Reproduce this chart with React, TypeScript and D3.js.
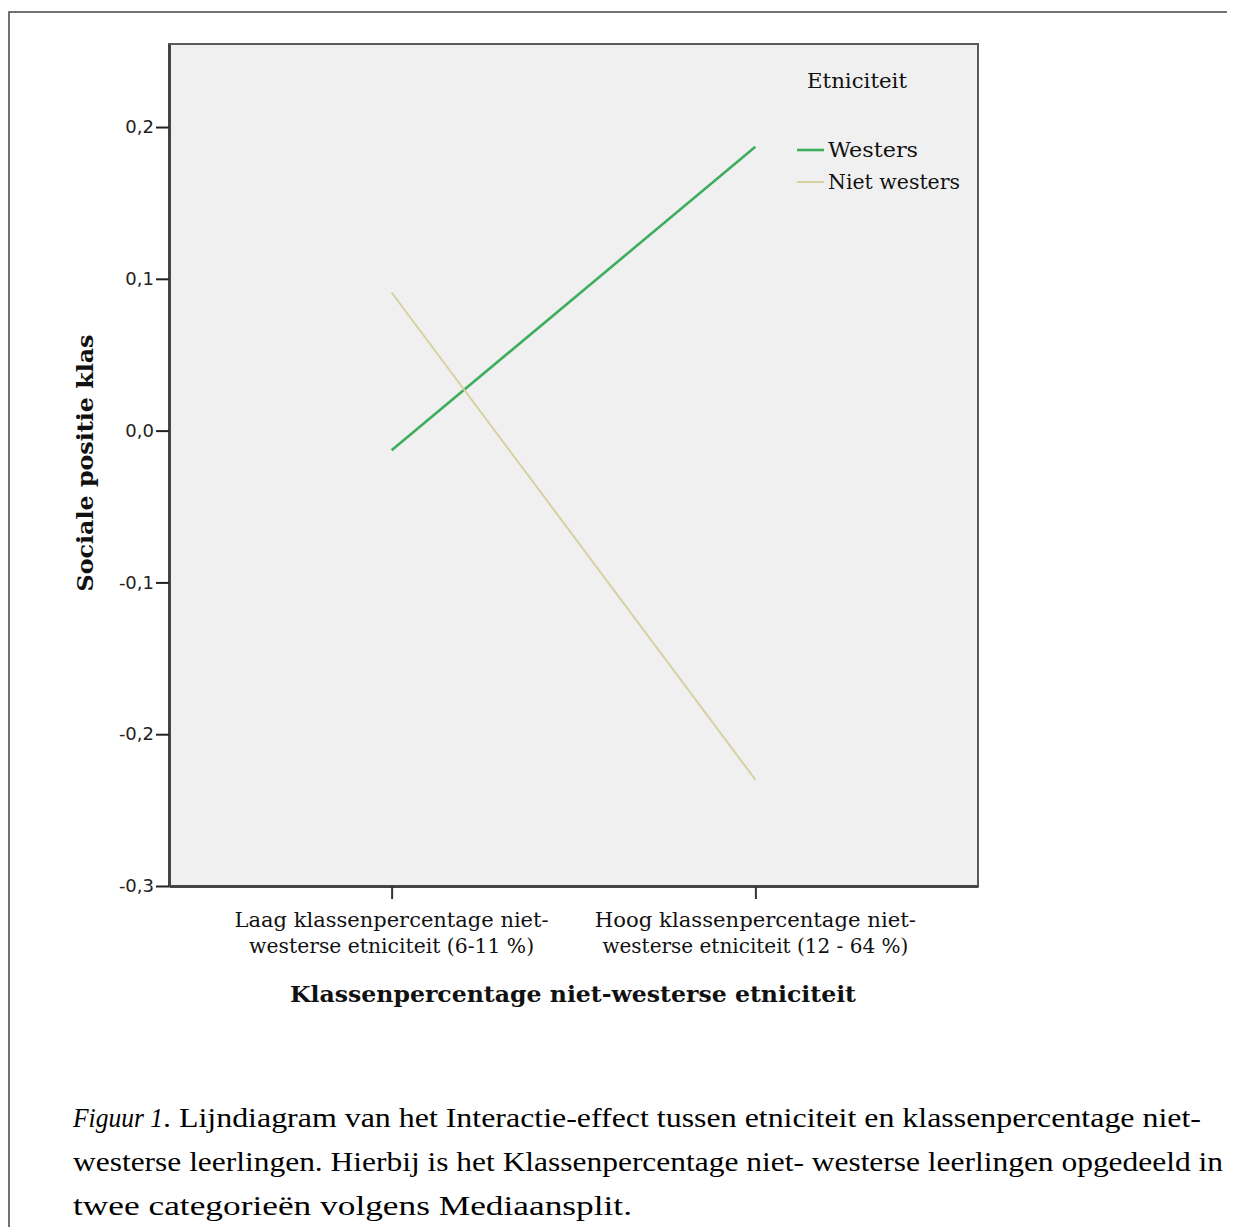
import React, { useEffect, useRef } from 'react';
import * as d3 from 'd3';

// categories (x axis), two lines each
const categories = ['laag', 'hoog'];
const categoryLabels = [
	['Laag klassenpercentage niet-', 'westerse etniciteit (6-11 %)'],
	['Hoog klassenpercentage niet-', 'westerse etniciteit (12 - 64 %)'],
];
const seriesNames = ['Westers', 'Niet westers'];
const westersValues = [-0.013, 0.187];
const nietWestersValues = [0.091, -0.23];
const yTicks = [-0.3, -0.2, -0.1, 0, 0.1, 0.2];
const yDomain: [number, number] = [-0.3, 0.2547];
const captionLines = [
	'. Lijndiagram van het Interactie-effect tussen etniciteit en klassenpercentage niet-',
	'westerse leerlingen. Hierbij is het Klassenpercentage niet- westerse leerlingen opgedeeld in',
	'twee categorieën volgens Mediaansplit.',
];

const colors = ['#3fae5c', '#d5d1a0'];

// squeeze/stretch text to the width seen in the picture
const fit = (sel: d3.Selection<SVGTextElement, any, any, any>, w: number) =>
	sel.attr('textLength', w).attr('lengthAdjust', 'spacingAndGlyphs');

const App: React.FC = () => {
	const ref = useRef<SVGSVGElement>(null);

	const totalWidth = 1219;
	const totalHeight = 1219;
	const margin = { top: 36, left: 161, right: 249, bottom: 341 };
	const width = totalWidth - margin.left - margin.right;
	const height = totalHeight - margin.top - margin.bottom;

	useEffect(() => {
		if (!ref.current) return;
		const svg = d3.select(ref.current);
		svg.selectAll('*').remove();

		// outer frame: only left and top edges are visible in the picture
		svg
			.append('path')
			.attr('d', `M1,${totalHeight}V4H${totalWidth}`)
			.attr('fill', 'none')
			.attr('stroke', '#444')
			.attr('stroke-width', 1.5);

		const g = svg
			.append('g')
			.attr('transform', `translate(${margin.left},${margin.top})`);

		const xScale = d3
			.scalePoint<string>()
			.domain(categories)
			.range([0, width])
			.padding(0.612);

		const yScale = d3.scaleLinear().domain(yDomain).range([height, 0]);

		// plot background
		g.append('rect')
			.attr('width', width)
			.attr('height', height)
			.attr('fill', '#f0f0f0')
			.attr('stroke', '#5a5a5a')
			.attr('stroke-width', 2);

		const locale = d3.formatLocale({
			decimal: ',',
			thousands: '.',
			grouping: [3],
			currency: ['€', ''],
			minus: '-',
		});

		// y axis
		const gy = g
			.append('g')
			.call(
				d3
					.axisLeft(yScale)
					.tickValues(yTicks)
					.tickFormat(locale.format('.1f'))
					.tickSize(13)
					.tickSizeOuter(0)
					.tickPadding(2),
			);
		gy.select('.domain').attr('stroke', '#444').attr('stroke-width', 3);
		gy.selectAll('.tick line').attr('stroke', '#222').attr('stroke-width', 2);
		gy.selectAll('.tick text')
			.attr('font-family', 'DejaVu Sans')
			.attr('font-size', 18)
			.attr('fill', '#222');

		// x axis
		const gx = g
			.append('g')
			.attr('transform', `translate(0,${height})`)
			.call(d3.axisBottom(xScale).tickSize(13).tickSizeOuter(0).tickFormat(() => ''));
		gx.select('.domain').attr('stroke', '#444').attr('stroke-width', 3);
		gx.selectAll('.tick line').attr('stroke', '#333').attr('stroke-width', 2);

		const labelWidths = [
			[314, 285],
			[321, 306],
		];
		categories.forEach((c, i) => {
			categoryLabels[i].forEach((line, j) => {
				const t = g
					.append('text')
					.attr('x', xScale(c) ?? 0)
					.attr('y', height + 41 + j * 26)
					.attr('text-anchor', 'middle')
					.attr('font-family', 'DejaVu Serif')
					.attr('font-size', 20)
					.attr('fill', '#111')
					.text(line);
				fit(t, labelWidths[i][j]);
			});
		});

		// axis titles
		fit(
			svg
				.append('text')
				.attr('x', 565)
				.attr('y', 994)
				.attr('text-anchor', 'middle')
				.attr('font-family', 'DejaVu Serif')
				.attr('font-weight', 'bold')
				.attr('font-size', 23)
				.attr('fill', '#111')
				.text('Klassenpercentage niet-westerse etniciteit'),
			566,
		);

		fit(
			svg
				.append('text')
				.attr('transform', `translate(85,455) rotate(-90)`)
				.attr('text-anchor', 'middle')
				.attr('font-family', 'DejaVu Serif')
				.attr('font-weight', 'bold')
				.attr('font-size', 23)
				.attr('fill', '#111')
				.text('Sociale positie klas'),
			257,
		);

		// lines
		const lineGen = d3
			.line<number>()
			.x((_, i) => xScale(categories[i]) ?? 0)
			.y((d) => yScale(d));

		const series = [westersValues, nietWestersValues];
		g.selectAll('.series')
			.data(series)
			.enter()
			.append('path')
			.attr('class', 'series')
			.attr('d', (d) => lineGen(d))
			.attr('fill', 'none')
			.attr('stroke', (_, i) => colors[i])
			.attr('stroke-width', (_, i) => (i === 0 ? 2.6 : 2));

		// legend
		const legend = svg.append('g').attr('transform', 'translate(789,0)');
		fit(
			legend
				.append('text')
				.attr('x', 60)
				.attr('y', 80)
				.attr('text-anchor', 'middle')
				.attr('font-family', 'DejaVu Serif')
				.attr('font-size', 20)
				.attr('fill', '#111')
				.text('Etniciteit'),
			100,
		);

		const legendWidths = [90, 132];
		seriesNames.forEach((name, i) => {
			const item = legend.append('g').attr('transform', `translate(0,${142 + i * 32})`);
			item
				.append('line')
				.attr('x1', 0)
				.attr('x2', 27)
				.attr('stroke', colors[i])
				.attr('stroke-width', i === 0 ? 2.6 : 2);
			fit(
				item
					.append('text')
					.attr('x', 31)
					.attr('dy', '0.36em')
					.attr('font-family', 'DejaVu Serif')
					.attr('font-size', 20)
					.attr('fill', '#111')
					.text(name),
				legendWidths[i],
			);
		});

		// caption
		const capStyle = (t: d3.Selection<SVGTextElement, any, any, any>) =>
			t.attr('font-family', 'Liberation Serif').attr('font-size', 27).attr('fill', '#000');

		fit(
			capStyle(svg.append('text'))
				.attr('x', 65)
				.attr('y', 1119)
				.attr('font-style', 'italic')
				.text('Figuur 1'),
			90,
		);
		const capWidths = [1038, 1150, 559];
		captionLines.forEach((line, i) => {
			fit(
				capStyle(svg.append('text'))
					.attr('x', i === 0 ? 155 : 65)
					.attr('y', 1119 + i * 44)
					.text(line),
				capWidths[i],
			);
		});
	}, []);

	return <svg ref={ref} width={totalWidth} height={totalHeight} style={{ display: 'block' }} />;
};

export default App;
